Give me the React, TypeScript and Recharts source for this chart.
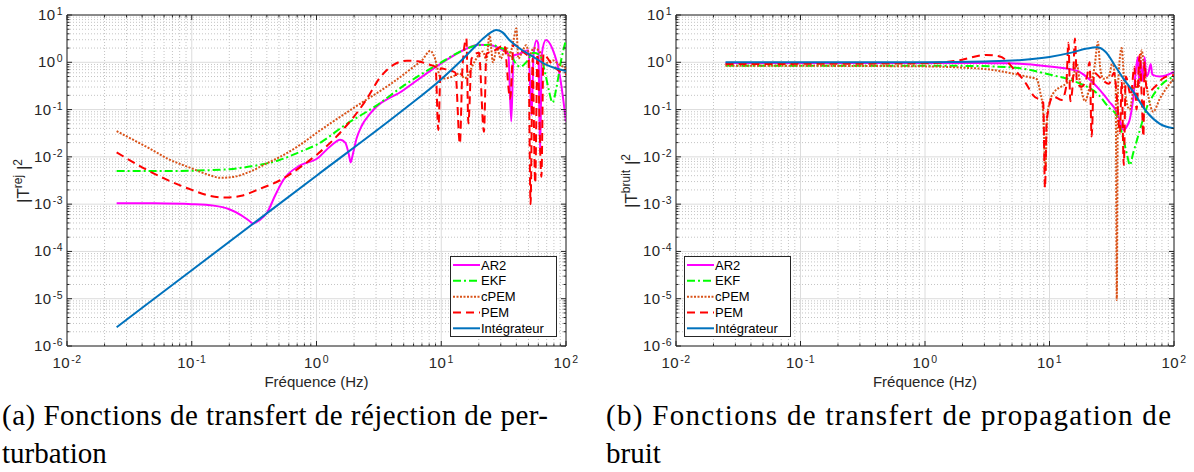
import React from "react";
import { LineChart, Line, XAxis, YAxis, CartesianGrid, ReferenceArea } from "recharts";

type Pair = [number, number];

const xDecades = [-2, -1, 0, 1, 2];
const yDecades = [-6, -5, -4, -3, -2, -1, 0, 1];
const minorSteps = [2, 3, 4, 5, 6, 7, 8, 9];

const seriesNames = ["AR2", "EKF", "cPEM", "PEM", "Intégrateur"];

// (a) rejection de perturbation : [frequence Hz, |T|^2]
const ar2Rej: Pair[] = [
  [0.025, 1.05e-3], [0.05, 1.04e-3], [0.1, 1.0e-3], [0.15, 9.3e-4], [0.2, 7.8e-4], [0.25, 5.8e-4],
  [0.29, 4.4e-4], [0.31, 3.9e-4], [0.35, 4.6e-4], [0.4, 6.5e-4], [0.47, 1.6e-3], [0.54, 3.2e-3],
  [0.74, 6.6e-3], [1, 9e-3], [1.3, 0.017], [1.55, 0.023], [1.7, 0.02], [1.82, 0.011], [1.88, 7.6e-3],
  [1.95, 0.011], [2.1, 0.025], [2.3, 0.045], [2.7, 0.083], [5, 0.26], [10, 0.95], [15, 1.8], [20, 2.35],
  [25, 2.3], [30, 1.9], [34.5, 1.5], [36.4, 0.056], [38, 1.4], [42, 1.5], [50, 1.8], [53, 0.077],
  [55, 1.5], [58, 2.9], [60, 2.4], [62, 0.012], [64, 1.5], [69, 2.95], [78, 1.9], [89, 0.54], [100, 0.056],
];
const ekfRej: Pair[] = [
  [0.025, 5e-3], [0.06, 5e-3], [0.1, 5.1e-3], [0.2, 5.5e-3], [0.3, 6.3e-3], [0.5, 8.5e-3], [0.75, 0.013],
  [1, 0.018], [1.75, 0.05], [3, 0.12], [5, 0.32], [10, 1.0], [15, 1.8], [20, 2.3], [25, 2.35], [30, 2.0],
  [35, 1.7], [39, 1.0], [43, 0.8], [48, 1.0], [55, 1.6], [62, 1.4], [68, 0.6], [73, 0.25], [78, 0.14],
  [84, 0.3], [92, 1.2], [100, 3.0],
];
const cpemRej: Pair[] = [
  [0.025, 0.035], [0.035, 0.022], [0.046, 0.015], [0.065, 9e-3], [0.1, 5.7e-3], [0.135, 4.2e-3],
  [0.17, 3.6e-3], [0.22, 3.8e-3], [0.3, 5e-3], [0.4, 7.3e-3], [0.51, 0.01], [0.74, 0.018], [1, 0.032],
  [2, 0.11], [4, 0.36], [6, 0.8], [7, 1.1], [8.2, 1.75], [8.8, 1.3], [10, 0.45], [12.4, 0.5], [14, 0.58],
  [15.4, 0.46], [18.5, 1.03], [20.4, 1.55], [21.6, 1.7], [23, 1.1], [24.4, 3.8], [26, 1.0], [28, 2.0],
  [30, 1.2], [33, 2.15], [35, 1.3], [38, 3.0], [40, 5.2], [41.5, 1.2], [45, 1.8], [48, 2.3], [51, 1.4],
  [55, 2.0], [61.6, 1.67], [65.5, 0.88], [72, 1.0], [78, 1.1], [88, 0.9], [100, 0.75],
];
const pemRej: Pair[] = [
  [0.025, 0.0125], [0.04, 6e-3], [0.06, 3.5e-3], [0.1, 2e-3], [0.14, 1.5e-3], [0.185, 1.38e-3],
  [0.25, 1.5e-3], [0.35, 2.1e-3], [0.51, 3.2e-3], [0.8, 7e-3], [1, 0.011], [1.54, 0.032], [2.5, 0.16],
  [3.2, 0.46], [4.2, 0.9], [5.3, 1.08], [6.5, 1.05], [7.9, 0.9], [9.0, 0.8], [9.47, 0.037], [9.9, 0.75],
  [11, 0.7], [13, 0.6], [14.1, 0.019], [14.8, 0.8], [15.9, 3.2], [16.5, 0.051], [17.5, 1.2], [20, 1.6],
  [22, 0.034], [23, 1.5], [27, 1.8], [32, 2.3], [35.7, 0.17], [38, 2.4], [42, 2.0], [46, 1.6], [50, 1.3],
  [52, 1e-3], [54, 1.2], [56.6, 2.8e-3], [59, 1.5], [63.5, 3.8e-3], [66, 1.5], [75, 1.0], [85, 0.7],
  [100, 0.55],
];
const intRej: Pair[] = [
  [0.025, 2.5e-6], [0.1, 4e-5], [1, 4e-3], [5, 0.1], [10, 0.44], [14, 1.0], [18, 1.95], [22, 3.3],
  [25, 4.3], [27.5, 4.8], [31, 4.3], [35, 3.0], [42, 2.0], [54, 1.33], [70, 0.88], [100, 0.65],
];

// (b) propagation de bruit
const ar2Noise: Pair[] = [
  [0.025, 0.97], [1, 0.97], [3, 0.96], [4.8, 0.95], [10, 0.81], [16.5, 0.66], [25, 0.27], [30, 0.15],
  [34.6, 0.09], [37, 0.055], [39.2, 0.037], [42, 0.045], [44, 0.06], [47, 0.17], [50, 0.88], [51.4, 1.3],
  [52.5, 0.35], [54, 1.1], [56, 0.4], [58, 1.3], [60, 0.5], [62, 0.56], [65, 0.92], [67, 0.55],
  [77, 0.5], [100, 0.63],
];
const ekfNoise: Pair[] = [
  [0.025, 0.85], [2, 0.84], [5, 0.78], [10, 0.55], [16.5, 0.38], [25, 0.2], [30, 0.11], [34.6, 0.075],
  [39, 0.025], [42, 0.011], [44.2, 6.7e-3], [47, 0.012], [50, 0.021], [55, 0.05], [60, 0.105],
  [68, 0.2], [77, 0.31], [100, 0.5],
];
const cpemNoise: Pair[] = [
  [0.025, 0.85], [1, 0.82], [2, 0.77], [3.5, 0.69], [5, 0.58], [6.5, 0.5], [7.9, 0.44], [8.4, 0.24],
  [8.9, 0.09], [9.25, 5e-3], [9.6, 0.08], [10.7, 0.22], [13.7, 0.36], [15.5, 0.5], [16.5, 0.95],
  [17.5, 0.4], [19.3, 0.15], [21, 0.3], [23, 0.8], [24.5, 2.7], [25.5, 0.8], [27, 0.45], [30, 0.5],
  [32, 1.0], [34, 0.3], [34.7, 9.4e-6], [35.5, 0.3], [38, 2.0], [40, 0.3], [44, 0.1], [48, 0.3],
  [52, 0.3], [55, 1.8], [58, 0.6], [62, 0.2], [68, 0.09], [77, 0.17], [100, 0.46],
];
const pemNoise: Pair[] = [
  [0.025, 0.92], [1, 0.95], [1.9, 1.11], [3.1, 1.43], [4, 1.33], [5.1, 0.75], [6.5, 0.35], [7.4, 0.2],
  [8.9, 0.14], [9.2, 2.2e-3], [9.5, 0.06], [10.7, 0.19], [12.5, 0.16], [13.6, 0.3], [14.2, 2.6],
  [14.7, 0.15], [15.5, 0.5], [16, 3.2], [16.6, 0.4], [18, 0.3], [20, 0.5], [21, 1.0], [21.8, 0.027],
  [22.8, 0.6], [26, 0.45], [30, 0.35], [33, 0.6], [35, 0.15], [36.8, 0.032], [38, 0.4], [39.5, 6.7e-3],
  [41, 0.5], [45, 0.2], [48, 0.8], [50, 0.1], [53, 1.45], [55, 0.2], [56.8, 0.027], [58, 1.0],
  [60, 0.3], [64, 0.25], [70, 0.3], [81.8, 0.46], [100, 0.54],
];
const intNoise: Pair[] = [
  [0.025, 1.0], [1, 1.0], [3, 1.04], [6, 1.12], [10, 1.3], [15, 1.6], [20, 1.95], [24, 2.07], [28, 1.7],
  [34.6, 0.75], [40, 0.42], [47, 0.24], [60, 0.091], [77, 0.05], [100, 0.04],
];

const FONT = "'Liberation Sans', Arial, Helvetica, sans-serif";
const SERIF = "'Liberation Serif', 'Times New Roman', serif";
const AX = "#262626";

const styles = [
  { color: "#FF00FF", dash: undefined },
  { color: "#00FF00", dash: "8 3 2 3" },
  { color: "#D95319", dash: "2 1.5" },
  { color: "#FF0000", dash: "8 5" },
  { color: "#0072BD", dash: undefined },
];

const pow = (d: number) => Math.pow(10, d);
const xMajor = xDecades.map(pow);
const yMajor = yDecades.map(pow);
const minorOf = (decs: number[]) =>
  decs.slice(0, -1).flatMap((d) => minorSteps.map((m) => m * pow(d)));
const xMinor = minorOf(xDecades);
const yMinor = minorOf(yDecades);
const xTicks = [...xMajor, ...xMinor].sort((a, b) => a - b);
const yTicks = [...yMajor, ...yMinor].sort((a, b) => a - b);

const toPoints = (pairs: Pair[]) => pairs.map(([f, v]) => ({ f, v }));

const decadeOf = (v: number) => {
  const lg = Math.log10(v);
  const e = Math.round(lg);
  return { e, major: Math.abs(lg - e) < 1e-6 };
};

const txt = { fontFamily: FONT, fill: AX };

const makeXTick = (top: number) => (props: any) => {
  const { x, y, payload } = props;
  const { e, major } = decadeOf(payload.value);
  const len = major ? 5 : 2.5;
  return (
    <g>
      <line x1={x} x2={x} y1={y} y2={y - len} stroke={AX} />
      <line x1={x} x2={x} y1={top} y2={top + len} stroke={AX} />
      {major && (
        <text x={x} y={y + 22} textAnchor="middle" fontSize={15} style={txt} letterSpacing={0.5}>
          10<tspan dx={1} dy={-5} fontSize={10.5}>{e}</tspan>
        </text>
      )}
    </g>
  );
};

const makeYTick = (right: number) => (props: any) => {
  const { x, y, payload } = props;
  const { e, major } = decadeOf(payload.value);
  const len = major ? 5 : 2.5;
  return (
    <g>
      <line x1={x} x2={x + len} y1={y} y2={y} stroke={AX} />
      <line x1={right} x2={right - len} y1={y} y2={y} stroke={AX} />
      {major && (
        <text x={x - 4} y={y + 5} textAnchor="end" fontSize={15} style={txt} letterSpacing={0.5}>
          10<tspan dx={1} dy={-5} fontSize={10.5}>{e}</tspan>
        </text>
      )}
    </g>
  );
};

const XTitle = ({ cx }: any) => (
  <text x={cx} y={387} textAnchor="middle" fontSize={15} style={txt}>
    Fréquence (Hz)
  </text>
);

const YTitle = ({ bx, sup }: any) => (
  <text
    transform={`rotate(-90 ${bx} 181)`}
    x={bx}
    y={181}
    textAnchor="middle"
    fontSize={17}
    style={txt}
  >
    |T<tspan dy={-7} fontSize={12}>{sup}</tspan>
    <tspan dy={7}> |</tspan>
    <tspan dy={-7} fontSize={12}>2</tspan>
  </text>
);

const LegendBox = ({ left, top }: { left: number; top: number }) => {
  const rows = [9, 24.8, 40.7, 56.4, 72.3];
  return (
    <svg style={{ position: "absolute", left, top }} width={108} height={82}>
      <rect x={0.5} y={0.5} width={106} height={80} fill="#fff" stroke={AX} />
      {seriesNames.map((n, i) => (
        <g key={n}>
          <line x1={3} x2={30} y1={rows[i]} y2={rows[i]} stroke={styles[i].color} strokeWidth={2} strokeDasharray={styles[i].dash} />
          <text x={31} y={rows[i] + 4.5} fontSize={13} style={{ fontFamily: FONT, fill: "#000" }}>{n}</text>
        </g>
      ))}
    </svg>
  );
};

type PanelProps = {
  left: number;
  chartWidth: number;
  yAxisWidth: number;
  marginRight: number;
  sup: string;
  titleX: number;
  legendX: number;
  series: Pair[][];
};

function Panel({ left, chartWidth, yAxisWidth, marginRight, sup, titleX, legendX, series }: PanelProps) {
  const plotTop = 15;
  const plotRight = chartWidth - marginRight;
  return (
    <div style={{ position: "absolute", left, top: 0, width: chartWidth, height: 400 }}>
      <LineChart width={chartWidth} height={400} margin={{ top: plotTop, right: marginRight, left: 0, bottom: 0 }}>
        <CartesianGrid verticalValues={xMinor} horizontalValues={yMinor} stroke="#c4c4c4" strokeDasharray="1 2" />
        <CartesianGrid verticalValues={xMajor} horizontalValues={yMajor} stroke="#dcdcdc" />
        <XAxis
          dataKey="f"
          type="number"
          scale="log"
          domain={[0.01, 100]}
          allowDataOverflow
          ticks={xTicks}
          interval={0}
          tickSize={0}
          tickMargin={0}
          axisLine={false}
          tick={makeXTick(plotTop)}
          height={54}
          label={<XTitle cx={(yAxisWidth + plotRight) / 2} />}
        />
        <YAxis
          type="number"
          scale="log"
          domain={[1e-6, 10]}
          allowDataOverflow
          ticks={yTicks}
          interval={0}
          tickSize={0}
          tickMargin={0}
          axisLine={false}
          tick={makeYTick(plotRight)}
          width={yAxisWidth}
          label={<YTitle bx={titleX} sup={sup} />}
        />
        <ReferenceArea x1={0.01} x2={100} y1={1e-6} y2={10} fill="none" stroke={AX} strokeWidth={1} ifOverflow="visible" />
        {series.map((s, i) => (
          <Line
            key={seriesNames[i]}
            data={toPoints(s)}
            dataKey="v"
            name={seriesNames[i]}
            type="monotone"
            stroke={styles[i].color}
            strokeWidth={2}
            strokeDasharray={styles[i].dash}
            dot={false}
            activeDot={false}
            isAnimationActive={false}
          />
        ))}
      </LineChart>
      <LegendBox left={legendX} top={256} />
    </div>
  );
}

const capStyle = { fontFamily: SERIF, fill: "#000" };

export default function App() {
  return (
    <div style={{ position: "absolute", left: 0, top: 0, width: 1194, height: 472, background: "#fff" }}>
      <Panel
        left={0}
        chartWidth={580}
        yAxisWidth={67}
        marginRight={14}
        sup="rej"
        titleX={29}
        legendX={450}
        series={[ar2Rej, ekfRej, cpemRej, pemRej, intRej]}
      />
      <Panel
        left={590}
        chartWidth={604}
        yAxisWidth={86}
        marginRight={20}
        sup="bruit"
        titleX={47}
        legendX={94}
        series={[ar2Noise, ekfNoise, cpemNoise, pemNoise, intNoise]}
      />
      <svg style={{ position: "absolute", left: 0, top: 390 }} width={1194} height={82}>
        <g fontSize={29}>
          <text x={2} y={35} style={capStyle} textLength={546} lengthAdjust="spacing">(a) Fonctions de transfert de réjection de per-</text>
          <text x={2} y={73} style={capStyle}>turbation</text>
          <text x={606} y={35} style={capStyle} textLength={565} lengthAdjust="spacing">(b) Fonctions de transfert de propagation de</text>
          <text x={606} y={73} style={capStyle}>bruit</text>
        </g>
      </svg>
    </div>
  );
}
